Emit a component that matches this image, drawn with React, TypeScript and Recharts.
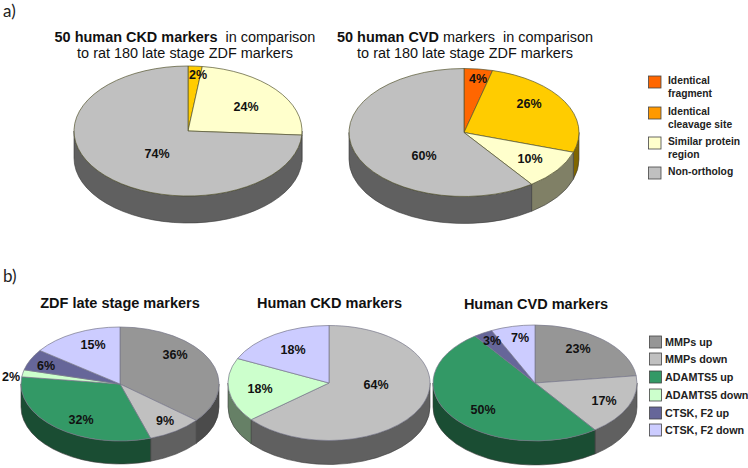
import React from "react";
import { PieChart, Pie, Cell } from "recharts";

const WIDTH = 748;
const HEIGHT = 468;
const SANS = "'Liberation Sans', Arial, sans-serif";

// ---- data
const kindsA = ["Identical fragment", "Identical cleavage site", "Similar protein region", "Non-ortholog"];
const kindsB = ["MMPs up", "MMPs down", "ADAMTS5 up", "ADAMTS5 down", "CTSK, F2 up", "CTSK, F2 down"];

const ckdACats = ["Identical cleavage site", "Similar protein region", "Non-ortholog"];
const ckdAVals = [2, 24, 74];
const cvdACats = ["Identical fragment", "Identical cleavage site", "Similar protein region", "Non-ortholog"];
const cvdAVals = [4, 26, 10, 60];
const zdfBCats = ["MMPs up", "MMPs down", "ADAMTS5 up", "ADAMTS5 down", "CTSK, F2 up", "CTSK, F2 down"];
const zdfBVals = [36, 9, 32, 2, 6, 15];
const ckdBCats = ["MMPs down", "ADAMTS5 down", "CTSK, F2 down"];
const ckdBVals = [64, 18, 18];
const cvdBCats = ["MMPs up", "MMPs down", "ADAMTS5 up", "CTSK, F2 up", "CTSK, F2 down"];
const cvdBVals = [23, 17, 50, 3, 7];

// ---- styles
const topColor: Record<string, string> = {
  "Identical fragment": "#FF6600",
  "Identical cleavage site": "#FFCC00",
  "Similar protein region": "#FFFFCC",
  "Non-ortholog": "#C0C0C0",
  "MMPs up": "#969696",
  "MMPs down": "#C0C0C0",
  "ADAMTS5 up": "#339966",
  "ADAMTS5 down": "#CCFFCC",
  "CTSK, F2 up": "#666699",
  "CTSK, F2 down": "#CCCCFF",
};
const wallColor: Record<string, string> = {
  "Identical fragment": "#803300",
  "Identical cleavage site": "#806600",
  "Similar protein region": "#808066",
  "Non-ortholog": "#606060",
  "MMPs up": "#4B4B4B",
  "MMPs down": "#606060",
  "ADAMTS5 up": "#1A4D33",
  "ADAMTS5 down": "#668066",
  "CTSK, F2 up": "#33334D",
  "CTSK, F2 down": "#666680",
};
const swatchA: Record<string, string> = { ...topColor, "Identical cleavage site": "#FF9900" };

type PieLayout = {
  id: string;
  cats: string[];
  vals: number[];
  cx: number;
  cy: number;
  rx: number;
  ry: number;
  depth: number;
  stroke: string;
  labels: [number, number][];
};

const pies: PieLayout[] = [
  { id: "ckdA", cats: ckdACats, vals: ckdAVals, cx: 188, cy: 131, rx: 114, ry: 65, depth: 27, stroke: "#55552f",
    labels: [[198, 74], [246, 106], [157, 153]] },
  { id: "cvdA", cats: cvdACats, vals: cvdAVals, cx: 464, cy: 132.5, rx: 115, ry: 64, depth: 27, stroke: "#55552f",
    labels: [[478, 78], [529, 103], [530, 158], [424, 155]] },
  { id: "zdfB", cats: zdfBCats, vals: zdfBVals, cx: 120, cy: 384, rx: 99, ry: 57, depth: 23, stroke: "#77778a",
    labels: [[175, 354], [165, 420], [81, 419], [11, 376], [46, 365], [93, 344]] },
  { id: "ckdB", cats: ckdBCats, vals: ckdBVals, cx: 329, cy: 383, rx: 101, ry: 57.5, depth: 24, stroke: "#77778a",
    labels: [[376, 384], [260, 388], [293, 349]] },
  { id: "cvdB", cats: cvdBCats, vals: cvdBVals, cx: 535, cy: 383, rx: 102, ry: 58, depth: 24, stroke: "#77778a",
    labels: [[578, 348], [604, 400], [483, 409], [492, 340], [520, 337]] },
];

const rad = (d: number) => (d * Math.PI) / 180;

// Draws a recharts sector as the top face of a tilted pie (elliptical).
function TopFace(props: any, ry: number, stroke: string) {
  const { cx, cy, outerRadius: rx, startAngle, endAngle, fill } = props;
  const a = 90 - startAngle;
  const b = 90 - endAngle;
  const x0 = cx + rx * Math.sin(rad(a));
  const y0 = cy - ry * Math.cos(rad(a));
  const x1 = cx + rx * Math.sin(rad(b));
  const y1 = cy - ry * Math.cos(rad(b));
  const large = b - a > 180 ? 1 : 0;
  return (
    <path
      d={`M${cx},${cy} L${x0},${y0} A${rx},${ry} 0 ${large} 1 ${x1},${y1} Z`}
      fill={fill}
      stroke={stroke}
      strokeWidth={0.7}
    />
  );
}

// Draws the visible lower rim of a recharts sector as the pie's side wall.
function SideWall(props: any, ry: number, depth: number) {
  const { cx, cy, outerRadius: rx, startAngle, endAngle, fill } = props;
  const a = Math.max(90 - startAngle, 90);
  const b = Math.min(90 - endAngle, 270);
  if (b <= a) return <g />;
  const x0 = cx + rx * Math.sin(rad(a));
  const y0 = cy - ry * Math.cos(rad(a));
  const x1 = cx + rx * Math.sin(rad(b));
  const y1 = cy - ry * Math.cos(rad(b));
  return (
    <path
      d={`M${x0},${y0} A${rx},${ry} 0 0 1 ${x1},${y1} L${x1},${y1 + depth} A${rx},${ry} 0 0 0 ${x0},${y0 + depth} Z`}
      fill={fill}
      stroke="#3a3a3a"
      strokeWidth={0.6}
    />
  );
}

const renderPie = (p: PieLayout) => {
  const data = p.cats.map((name, i) => ({ name, value: p.vals[i] }));
  return [
    <Pie
      key={p.id + "-wall"}
      data={data}
      dataKey="value"
      cx={p.cx}
      cy={p.cy}
      outerRadius={p.rx}
      startAngle={90}
      endAngle={-270}
      isAnimationActive={false}
      shape={(s: any) => SideWall(s, p.ry, p.depth)}
    >
      {data.map((d) => (
        <Cell key={d.name} fill={wallColor[d.name]} />
      ))}
    </Pie>,
    <Pie
      key={p.id + "-top"}
      data={data}
      dataKey="value"
      cx={p.cx}
      cy={p.cy}
      outerRadius={p.rx}
      startAngle={90}
      endAngle={-270}
      isAnimationActive={false}
      labelLine={false}
      shape={(s: any) => TopFace(s, p.ry, p.stroke)}
      label={(l: any) => (
        <text
          x={p.labels[l.index][0]}
          y={p.labels[l.index][1]}
          dy="0.36em"
          textAnchor="middle"
          fontFamily={SANS}
          fontWeight="bold"
          fontSize={12.5}
          fill="#111"
        >
          {`${l.value}%`}
        </text>
      )}
    >
      {data.map((d) => (
        <Cell key={d.name} fill={topColor[d.name]} />
      ))}
    </Pie>,
  ];
};

const panelLetter = { fontFamily: "Lato, sans-serif", fontSize: 17, fill: "#222" };
const titleStyle = { fontFamily: SANS, fontSize: 14.45, fill: "#111", textAnchor: "middle" as const };
const titleBold = { ...titleStyle, fontWeight: "bold" as const, fontSize: 14.5 };
const legendBase = { fontFamily: SANS, fontWeight: "bold" as const, fill: "#222" };
const legendAStyle = { ...legendBase, fontSize: 10.3 };
const legendBStyle = { ...legendBase, fontSize: 10.8 };

const legendARows: [number, string[]][] = [
  [76, ["Identical", "fragment"]],
  [107, ["Identical", "cleavage site"]],
  [137, ["Similar protein", "region"]],
  [167, ["Non-ortholog"]],
];
const legendBRows = [336, 353, 371, 389, 407, 424];

export default function App() {
  return (
    <div style={{ position: "absolute", left: 0, top: 0, width: WIDTH, height: HEIGHT, background: "#fff" }}>
      <PieChart width={WIDTH} height={HEIGHT} margin={{ top: 0, right: 0, bottom: 0, left: 0 }}>
        {pies.flatMap(renderPie)}

        <text x={3} y={16.5} {...panelLetter}>a)</text>
        <text x={3} y={282} {...panelLetter}>b)</text>

        <text x={185} y={42} {...titleStyle} xmlSpace="preserve">
          <tspan fontWeight="bold">50 human CKD markers</tspan>
          {"  in comparison"}
        </text>
        <text x={185} y={58} {...titleStyle}>to rat 180 late stage ZDF markers</text>
        <text x={465} y={42} {...titleStyle} xmlSpace="preserve">
          <tspan fontWeight="bold">50 human CVD</tspan>
          {" markers  in comparison"}
        </text>
        <text x={465} y={58} {...titleStyle}>to rat 180 late stage ZDF markers</text>

        <text x={120} y={308} {...titleBold}>ZDF late stage markers</text>
        <text x={329.5} y={308} {...titleBold}>Human CKD markers</text>
        <text x={536} y={309} {...titleBold}>Human CVD markers</text>

        {kindsA.map((k, i) => (
          <g key={k}>
            <rect x={648.5} y={legendARows[i][0]} width={12.5} height={12} fill={swatchA[k]} stroke="#444" strokeWidth={0.8} />
            {legendARows[i][1].map((line, j) => (
              <text key={line} x={668} y={legendARows[i][0] + 8 + j * 12.5} {...legendAStyle}>{line}</text>
            ))}
          </g>
        ))}

        {kindsB.map((k, i) => (
          <g key={k}>
            <rect x={649.5} y={legendBRows[i]} width={12} height={12} fill={topColor[k]} stroke="#444" strokeWidth={0.8} />
            <text x={665} y={legendBRows[i] + 9.5} {...legendBStyle}>{k}</text>
          </g>
        ))}
      </PieChart>
    </div>
  );
}
